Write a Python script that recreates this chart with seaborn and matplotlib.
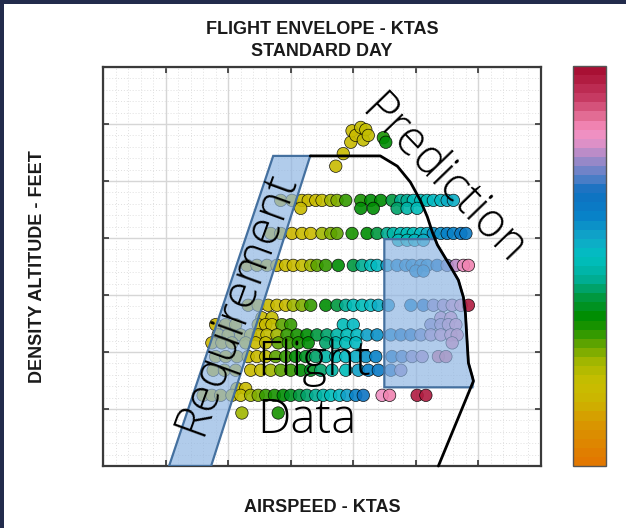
import numpy as np
import pandas as pd
import matplotlib
matplotlib.use("Agg")
import matplotlib.pyplot as plt
import seaborn as sns
from matplotlib.colors import LinearSegmentedColormap, ListedColormap, Normalize
from matplotlib.patches import Polygon, Rectangle
from matplotlib.ticker import MultipleLocator, AutoMinorLocator
import matplotlib.cm as cm

# ---------------- flight test points (KTAS, density altitude ft, Mach) ----------------
TOP_KTAS = [186, 192, 198, 199, 202, 206, 208, 210, 212, 224, 226]
TOP_ALT = [26300, 27400, 28400, 29400, 29000, 29700, 28600, 29500, 29000, 28800, 28400]
TOP_MACH = [0.180, 0.180, 0.180, 0.183, 0.183, 0.185, 0.187, 0.187, 0.190, 0.288, 0.292]

ROW_23300_KTAS = [142, 151, 159, 164, 170, 175, 182, 187, 194, 206, 214, 222, 231, 238, 243,
                  248, 254, 259, 264, 270, 275, 280]
ROW_23300_MACH = [0.160, 0.167, 0.180, 0.180, 0.180, 0.194, 0.221, 0.234, 0.268, 0.288, 0.295,
                  0.302, 0.329, 0.356, 0.362, 0.383, 0.396, 0.396, 0.403, 0.403, 0.416, 0.423]
ROW_22600_KTAS = [158, 206, 216, 235, 243, 251]
ROW_22600_MACH = [0.180, 0.295, 0.295, 0.349, 0.369, 0.383]

ROW_20400_KTAS = [134, 142, 151, 159, 166, 175, 182, 187, 199, 211, 219, 227, 232, 238, 243,
                  248, 254, 259, 264, 270, 275, 280, 286, 290]
ROW_20400_MACH = [0.160, 0.160, 0.167, 0.180, 0.180, 0.214, 0.234, 0.254, 0.288, 0.295, 0.329,
                  0.356, 0.369, 0.396, 0.396, 0.396, 0.403, 0.423, 0.450, 0.450, 0.464, 0.470,
                  0.477, 0.477]
ROW_19800_KTAS = [236, 243, 249, 256]
ROW_19800_MACH = [0.383, 0.396, 0.403, 0.416]

ROW_17600_KTAS = [115, 123, 131, 139, 146, 152, 159, 166, 171, 178, 188, 200, 207, 214, 219,
                  227, 235, 242, 247, 254, 259, 267, 275, 282, 288, 292]
ROW_17600_MACH = [0.146, 0.153, 0.160, 0.167, 0.180, 0.180, 0.187, 0.221, 0.248, 0.275, 0.295,
                  0.335, 0.362, 0.383, 0.403, 0.430, 0.464, 0.464, 0.464, 0.464, 0.470, 0.504,
                  0.538, 0.572, 0.612, 0.619]
ROW_17100_KTAS = [250, 256]
ROW_17100_MACH = [0.464, 0.464]

ROW_14100_KTAS = [116, 124, 132, 139, 146, 152, 159, 166, 178, 187, 194, 200, 207, 214, 220,
                  228, 246, 256, 264, 272, 279, 286, 292]
ROW_14100_MACH = [0.153, 0.160, 0.173, 0.180, 0.180, 0.214, 0.234, 0.268, 0.295, 0.329, 0.356,
                  0.383, 0.396, 0.403, 0.423, 0.450, 0.464, 0.518, 0.558, 0.572, 0.585, 0.612,
                  0.700]

ROW_13000_KTAS = [127, 135, 270, 278]
ROW_13000_MACH = [0.180, 0.187, 0.585, 0.599]

ROW_12400_KTAS = [90, 98, 106, 124, 130, 135, 143, 150, 192, 200, 262, 270, 276, 282]
ROW_12400_MACH = [0.160, 0.160, 0.167, 0.180, 0.180, 0.194, 0.248, 0.268, 0.396, 0.403, 0.558,
                  0.572, 0.585, 0.599]

ROW_11500_KTAS = [92, 100, 110, 118, 124, 131, 139, 147, 155, 163, 171, 179, 187, 195, 203,
                  211, 219, 230, 238, 246, 254, 262, 270, 278, 283]
ROW_11500_MACH = [0.160, 0.160, 0.167, 0.173, 0.180, 0.194, 0.227, 0.261, 0.281, 0.295, 0.322,
                  0.349, 0.369, 0.396, 0.410, 0.430, 0.450, 0.470, 0.504, 0.518, 0.545, 0.572,
                  0.585, 0.612, 0.626]

ROW_10800_KTAS = [87, 95, 103, 114, 122, 130, 140, 148, 156, 164, 178, 186, 194, 202, 279]
ROW_10800_MACH = [0.153, 0.160, 0.160, 0.173, 0.180, 0.194, 0.248, 0.268, 0.288, 0.302, 0.349,
                  0.369, 0.383, 0.403, 0.619]

ROW_9600_KTAS = [90, 98, 107, 116, 123, 130, 138, 146, 154, 162, 170, 178, 186, 194, 202,
                 210, 218, 231, 239, 247, 255, 268, 274]
ROW_9600_MACH = [0.160, 0.160, 0.167, 0.180, 0.180, 0.194, 0.248, 0.275, 0.295, 0.315, 0.342,
                 0.369, 0.383, 0.403, 0.423, 0.450, 0.464, 0.504, 0.524, 0.558, 0.572, 0.639,
                 0.639]

ROW_8400_KTAS = [88, 97, 106, 118, 126, 134, 142, 150, 158, 166, 174, 183, 194, 204, 212,
                 220, 230, 238]
ROW_8400_MACH = [0.153, 0.160, 0.167, 0.180, 0.187, 0.214, 0.254, 0.275, 0.295, 0.315, 0.342,
                 0.369, 0.396, 0.437, 0.464, 0.477, 0.518, 0.558]

ROW_6800_KTAS = [107, 114]
ROW_6800_MACH = [0.180, 0.180]

ROW_6200_KTAS = [80, 87, 94, 103, 110, 118, 124, 130, 137, 144, 150, 157, 163, 170, 176,
                 182, 189, 195, 202, 208, 223, 229, 251, 258]
ROW_6200_MACH = [0.153, 0.160, 0.167, 0.180, 0.187, 0.214, 0.234, 0.268, 0.288, 0.295, 0.315,
                 0.329, 0.349, 0.362, 0.376, 0.389, 0.403, 0.430, 0.464, 0.491, 0.612, 0.619,
                 0.693, 0.700]

ROW_4650_KTAS = [111, 140]
ROW_4650_MACH = [0.221, 0.281]

# ---------------- envelope outlines ----------------
REQ_KTAS = [52.8, 86.4, 165.6, 136.0]
REQ_ALT = [0, 0, 27200, 27200]

PRED_KTAS = [165.6, 221.6, 235.2, 245.6, 253.6, 259.2, 263.2, 267.2, 276.0, 284.0, 288.0,
             289.6, 291.2, 292.0, 295.2, 296.0, 268.0]
PRED_ALT = [27200, 27200, 26300, 24900, 23300, 21850, 20500, 19400, 17800, 16300, 14800,
            13400, 10450, 9050, 7800, 7450, 0]

FD_KTAS = [224.8, 265.4, 267.2, 276.0, 284.0, 288.0, 289.6, 291.2, 292.0, 295.2, 296.0,
           295.2, 224.8]
FD_ALT = [19900, 19900, 19400, 17800, 16300, 14800, 13400, 10450, 9050, 7800, 7450,
          6900, 6900]

# ---------------- assemble the scatter table ----------------
rows = [
    (TOP_KTAS, TOP_ALT, TOP_MACH),
    (ROW_23300_KTAS, 23300, ROW_23300_MACH),
    (ROW_22600_KTAS, 22600, ROW_22600_MACH),
    (ROW_20400_KTAS, 20400, ROW_20400_MACH),
    (ROW_19800_KTAS, 19800, ROW_19800_MACH),
    (ROW_17600_KTAS, 17600, ROW_17600_MACH),
    (ROW_17100_KTAS, 17100, ROW_17100_MACH),
    (ROW_14100_KTAS, 14100, ROW_14100_MACH),
    (ROW_13000_KTAS, 13000, ROW_13000_MACH),
    (ROW_12400_KTAS, 12400, ROW_12400_MACH),
    (ROW_11500_KTAS, 11500, ROW_11500_MACH),
    (ROW_10800_KTAS, 10800, ROW_10800_MACH),
    (ROW_9600_KTAS, 9600, ROW_9600_MACH),
    (ROW_8400_KTAS, 8400, ROW_8400_MACH),
    (ROW_6800_KTAS, 6800, ROW_6800_MACH),
    (ROW_6200_KTAS, 6200, ROW_6200_MACH),
    (ROW_4650_KTAS, 4650, ROW_4650_MACH),
]
frames = []
for k, a, m in rows:
    alt = a if isinstance(a, list) else [a] * len(k)
    frames.append(pd.DataFrame({"ktas": k, "alt": alt, "mach": m}))
df = pd.concat(frames, ignore_index=True)

# ---------------- colour scale ----------------
anchors = [
    (0.00, "#E27800"), (0.10, "#D89800"), (0.15, "#CCB400"), (0.20, "#C8BE00"),
    (0.25, "#A8B800"), (0.29, "#70A800"), (0.33, "#2C9800"), (0.37, "#008C00"),
    (0.42, "#009840"), (0.47, "#00AE98"), (0.52, "#00C0C0"), (0.57, "#10A8C8"),
    (0.63, "#0880C8"), (0.69, "#1070C0"), (0.73, "#5880C8"), (0.77, "#9888C8"),
    (0.81, "#D890C8"), (0.85, "#F890C0"), (0.89, "#E06890"), (0.93, "#C83C64"),
    (1.00, "#A81034"),
]
smooth = LinearSegmentedColormap.from_list("envelope", anchors)
cmap = ListedColormap(smooth(np.linspace(0, 1, 44)))
norm = Normalize(vmin=0.045, vmax=0.72)

# ---------------- figure ----------------
sns.set_style("white")
plt.rcParams["font.family"] = ["Liberation Sans", "DejaVu Sans"]

fig = plt.figure(figsize=(6.26, 5.28), dpi=100)
fig.patch.set_facecolor("white")
fig.patches.append(Rectangle((0, 1 - 4 / 528), 1, 4 / 528, transform=fig.transFigure,
                             facecolor="#222B4C", edgecolor="none", zorder=0))
fig.patches.append(Rectangle((0, 0), 4 / 626, 1, transform=fig.transFigure,
                             facecolor="#222B4C", edgecolor="none", zorder=0))

ax = fig.add_axes([103 / 626, 62 / 528, 438 / 626, 399 / 528])
cax = fig.add_axes([573 / 626, 62 / 528, 33 / 626, 400 / 528])

ax.set_xlim(0, 350)
ax.set_ylim(0, 35000)
ax.xaxis.set_major_locator(MultipleLocator(50))
ax.yaxis.set_major_locator(MultipleLocator(5000))
ax.xaxis.set_minor_locator(AutoMinorLocator(5))
ax.yaxis.set_minor_locator(AutoMinorLocator(5))
ax.grid(which="major", color="#D6D6D6", linewidth=1.0, zorder=0)
ax.grid(which="minor", color="#E0E0E0", linewidth=0.7, linestyle=(0, (1, 2)), zorder=0)
ax.set_axisbelow(True)
ax.tick_params(which="major", direction="in", length=4, width=1.2, color="#333333",
               top=True, right=True, bottom=True, left=True,
               labelbottom=False, labelleft=False)
ax.tick_params(which="minor", length=0)
for s in ax.spines.values():
    s.set_color("#3A3A3A")
    s.set_linewidth(1.6)

sns.scatterplot(data=df, x="ktas", y="alt", hue="mach", palette=cmap, hue_norm=norm,
                s=80, alpha=0.9, edgecolor=(0, 0, 0, 0.07), linewidth=0.5,
                legend=False, ax=ax, zorder=2)
ax.set_xlabel("")
ax.set_ylabel("")

fill_rgba = (0.553, 0.706, 0.886, 0.68)
ax.add_patch(Polygon(np.column_stack([REQ_KTAS, REQ_ALT]), closed=True,
                     facecolor=fill_rgba, edgecolor="#44709F", linewidth=1.6, zorder=3))
ax.add_patch(Polygon(np.column_stack([FD_KTAS, FD_ALT]), closed=True,
                     facecolor=fill_rgba, edgecolor="#44709F", linewidth=1.6, zorder=3))
ax.plot(PRED_KTAS, PRED_ALT, color="black", linewidth=2.0, zorder=4,
        solid_joinstyle="round", clip_on=False)

label_font = dict(family=["Open Sans", "DejaVu Sans"], weight=300, color="black", zorder=5)
ax.text(107, 14300, "Requirement", rotation=70, rotation_mode="anchor",
        ha="center", va="center", fontsize=34, **label_font)
ax.text(271, 25000, "Prediction", rotation=-46, rotation_mode="anchor",
        ha="center", va="center", fontsize=34, **label_font)
ax.text(123, 7980, "Flight", ha="left", va="baseline", fontsize=34, **label_font)
ax.text(123, 2900, "Data", ha="left", va="baseline", fontsize=34, **label_font)

# colour bar
cb = fig.colorbar(cm.ScalarMappable(norm=norm, cmap=cmap), cax=cax,
                  ticks=[0.1, 0.2, 0.3, 0.4, 0.5, 0.6, 0.7])
cb.outline.set_edgecolor("#555555")
cb.outline.set_linewidth(1.0)
cax.tick_params(direction="in", length=3, width=1.0, color="#333333", right=True,
                labelright=False, left=False)

title_font = dict(fontsize=13, fontweight="bold", color="#1A1A1A", ha="center", va="center")
fig.text(322 / 626, 1 - 30 / 528, "FLIGHT ENVELOPE - KTAS", **title_font)
fig.text(322 / 626, 1 - 52 / 528, "STANDARD DAY", **title_font)
fig.text(322 / 626, 1 - 508 / 528, "AIRSPEED - KTAS", **title_font)
fig.text(38 / 626, 1 - 267 / 528, "DENSITY ALTITUDE - FEET", rotation=90, **title_font)

fig.savefig("out.png", dpi=100)
